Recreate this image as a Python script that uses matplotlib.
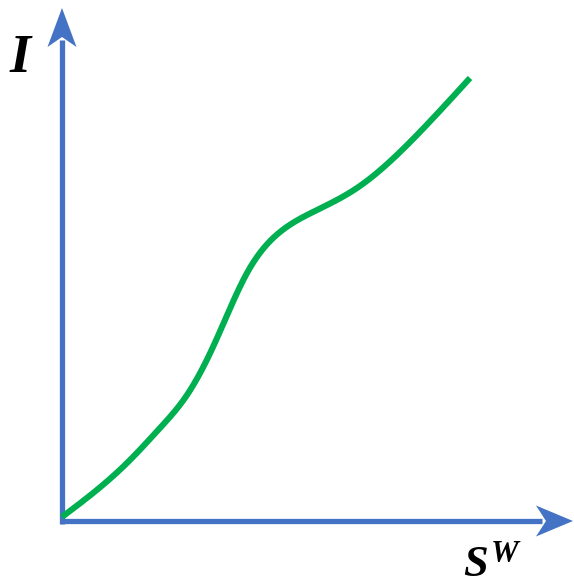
import numpy as np
import matplotlib
matplotlib.use("Agg")
import matplotlib.pyplot as plt
from matplotlib.patches import Polygon

plt.rcParams['mathtext.fontset'] = 'custom'
plt.rcParams['mathtext.it'] = 'Liberation Serif:italic:bold'
plt.rcParams['mathtext.rm'] = 'Liberation Serif:bold'

# curve (x = S^W, y = I), arbitrary units
sw = [0, 65, 98, 125, 151, 185, 218, 251, 295, 355, 408]
iv = [3, 57, 92, 125, 173, 247, 288, 308, 332, 385, 442]

AXIS_BLUE = '#4472C4'
GREEN = '#00B050'

fig = plt.figure(figsize=(5.74, 5.84), dpi=100)
ax = fig.add_axes([0, 0, 1, 1])
ax.set_xlim(-62, 512)
ax.set_ylim(-64, 520)
ax.axis('off')


def natural_spline(xs, ys, num=600):
    x = np.asarray(xs, float); y = np.asarray(ys, float)
    n = len(x)
    h = np.diff(x)
    A = np.zeros((n, n)); b = np.zeros(n)
    A[0, 0] = 1; A[-1, -1] = 1
    for i in range(1, n - 1):
        A[i, i - 1] = h[i - 1]
        A[i, i] = 2 * (h[i - 1] + h[i])
        A[i, i + 1] = h[i]
        b[i] = 3 * ((y[i + 1] - y[i]) / h[i] - (y[i] - y[i - 1]) / h[i - 1])
    c = np.linalg.solve(A, b)
    bb = (y[1:] - y[:-1]) / h - h * (2 * c[:-1] + c[1:]) / 3
    d = (c[1:] - c[:-1]) / (3 * h)
    xx = np.linspace(x[0], x[-1], num)
    idx = np.clip(np.searchsorted(x, xx, side='right') - 1, 0, n - 2)
    dx = xx - x[idx]
    yy = y[idx] + bb[idx] * dx + c[idx] * dx ** 2 + d[idx] * dx ** 3
    return xx, yy


cx, cy = natural_spline(sw, iv)
ax.plot(cx, cy, color=GREEN, lw=4.4, solid_capstyle='butt', solid_joinstyle='round', zorder=3)

# axes lines
lw_ax = 3.8
ax.plot([0, 0], [-3.5, 480], color=AXIS_BLUE, lw=lw_ax, solid_capstyle='butt', zorder=2)
ax.plot([-1.4, 480], [-1, -1], color=AXIS_BLUE, lw=lw_ax, solid_capstyle='butt', zorder=2)

# arrowheads (stealth style)
ax.add_patch(Polygon([[0, 512], [-14.5, 473], [0, 483], [14.5, 473]], closed=True,
                     facecolor=AXIS_BLUE, edgecolor='none', zorder=2))
ax.add_patch(Polygon([[511, -1], [474, 14.5], [484, -1], [474, -16.5]], closed=True,
                     facecolor=AXIS_BLUE, edgecolor='none', zorder=2))

ax.text(-42, 461, 'I', fontsize=39, family='Liberation Serif', fontweight='bold',
        fontstyle='italic', ha='center', va='center')
ax.text(431, -44, r'$S^{W}$', fontsize=32, ha='center', va='center')

fig.savefig('out.png', dpi=100)
